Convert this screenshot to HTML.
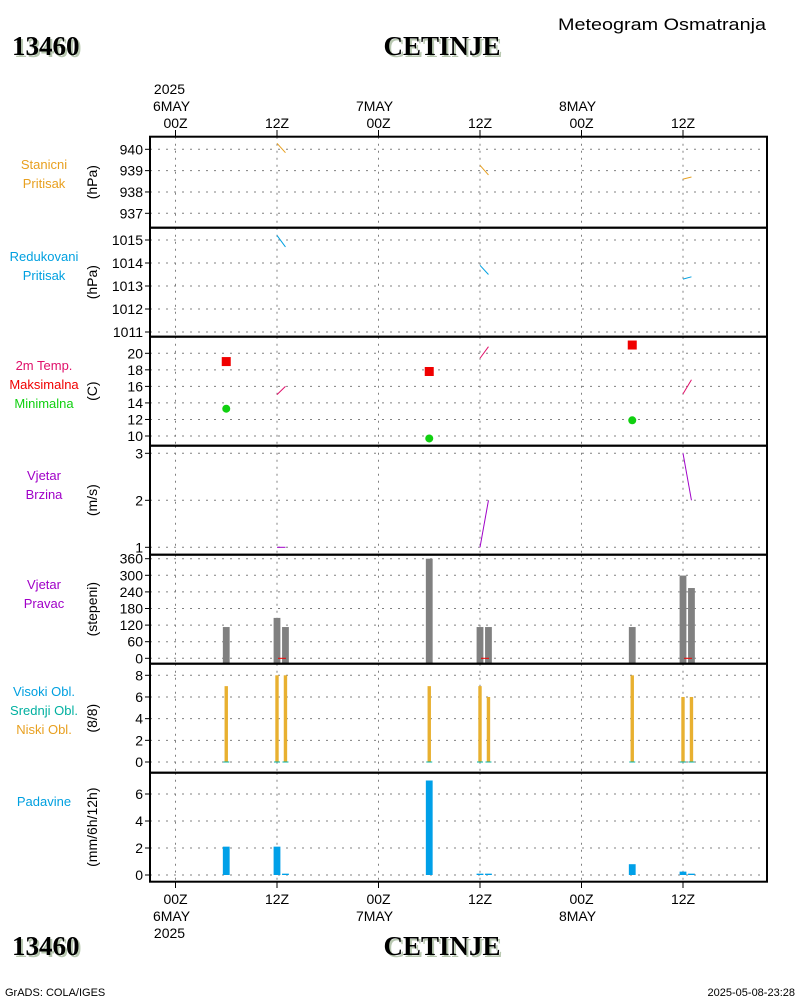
<!DOCTYPE html>
<html><head><meta charset="utf-8"><style>
body{margin:0;background:#fff;}
svg{display:block;font-family:"Liberation Sans",sans-serif;}
.big{font-family:"Liberation Serif",serif;font-weight:bold;font-size:27px;}
</style></head><body>
<svg id="c" width="800" height="1000" xmlns="http://www.w3.org/2000/svg">
<rect width="800" height="1000" fill="#fff"/>
<g>
<text x="14" y="57" class="big" fill="#b8c8b0">13460</text>
<text x="12" y="55" class="big" fill="#000">13460</text>
<text x="444" y="57" class="big" fill="#b8c8b0" text-anchor="middle">CETINJE</text>
<text x="442" y="55" class="big" fill="#000" text-anchor="middle">CETINJE</text>
<text x="558" y="30" font-size="17" textLength="208" lengthAdjust="spacingAndGlyphs">Meteogram Osmatranja</text>
<text x="14" y="957" class="big" fill="#b8c8b0">13460</text>
<text x="12" y="955" class="big" fill="#000">13460</text>
<text x="444" y="957" class="big" fill="#b8c8b0" text-anchor="middle">CETINJE</text>
<text x="442" y="955" class="big" fill="#000" text-anchor="middle">CETINJE</text>
<text x="5" y="996" font-size="11">GrADS: COLA/IGES</text>
<text x="795" y="996" font-size="11" text-anchor="end">2025-05-08-23:28</text>
</g>
<g id="plot"></g>
</svg>
<script>
// ---- data (hours since 2025-05-06 00Z) ----
const xTickHours = [0, 12, 24, 36, 48, 60];
const xTickLabels = ["00Z", "12Z", "00Z", "12Z", "00Z", "12Z"];
const dayLabels = ["6MAY", "7MAY", "8MAY"];
const dayHours = [0, 24, 48];
const presHours = [12, 13, 36, 37, 60, 61];
const stationPres = [940.28, 939.84, 939.25, 938.8, 938.6, 938.7];
const redPres = [1015.2, 1014.7, 1013.9, 1013.5, 1013.3, 1013.4];
const tempHours = [12, 13, 36, 37, 60, 61];
const temp2m = [15.0, 16.0, 19.4, 20.8, 15.1, 16.8];
const extHours = [6, 30, 54];
const tMax = [19.0, 17.8, 21.0];
const tMin = [13.3, 9.7, 11.9];
const windHours = [12, 13, 36, 37, 60, 61];
const windSpeed = [1, 1, 1, 2, 3, 2];
const obsHours = [6, 12, 13, 30, 36, 37, 54, 60, 61];
const windDir = [113, 146, 113, 360, 113, 113, 113, 299, 254];
const lowCloud = [7, 8, 8, 7, 7, 6, 8, 6, 6];
const precip = [2.1, 2.1, 0.1, 7.0, 0.1, 0.1, 0.8, 0.25, 0.1];
const calmHours = [12, 36, 60];

const NS = "http://www.w3.org/2000/svg";
const plot = document.getElementById("plot");
const X0 = 150, X1 = 767;
const xs = h => 175.5 + h * 101.5 / 12;
function el(tag, attrs, parent) {
  const e = document.createElementNS(NS, tag);
  for (const k in attrs) e.setAttribute(k, attrs[k]);
  (parent || plot).appendChild(e);
  return e;
}
function txt(x, y, s, attrs, parent) {
  const e = el("text", Object.assign({x: x, y: y}, attrs || {}), parent);
  e.textContent = s;
  return e;
}
const panels = [
  {top:136.7, bot:227.7, v0:937, v1:940, p0:213.3, p1:149.3, ticks:[937,938,939,940], unit:"(hPa)", off:-18, labels:[["Stanicni","#e8a020"],["Pritisak","#e8a020"]], name:"station-pressure"},
  {top:227.7, bot:336.7, v0:1011, v1:1015, p0:332, p1:240, ticks:[1011,1012,1013,1014,1015], unit:"(hPa)", off:-26, labels:[["Redukovani","#00a0e0"],["Pritisak","#00a0e0"]], name:"reduced-pressure"},
  {top:336.7, bot:445.7, v0:10, v1:20, p0:436, p1:353.3, ticks:[10,12,14,16,18,20], unit:"(C)", off:-26, labels:[["2m Temp.","#e0106a"],["Maksimalna","#f00000"],["Minimalna","#10d010"]], name:"temperature"},
  {top:445.7, bot:554.7, v0:1, v1:3, p0:547.3, p1:453.3, ticks:[1,2,3], unit:"(m/s)", off:-25, labels:[["Vjetar","#a000c8"],["Brzina","#a000c8"]], name:"wind-speed"},
  {top:554.7, bot:663.7, v0:0, v1:360, p0:658.3, p1:558.7, ticks:[0,60,120,180,240,300,360], unit:"(stepeni)", off:-25, labels:[["Vjetar","#a000c8"],["Pravac","#a000c8"]], name:"wind-direction"},
  {top:663.7, bot:772.7, v0:0, v1:8, p0:762, p1:675.3, ticks:[0,2,4,6,8], unit:"(8/8)", off:-27, labels:[["Visoki Obl.","#00a0e0"],["Srednji Obl.","#00b0a0"],["Niski Obl.","#e8a020"]], name:"cloud-cover"},
  {top:772.7, bot:881.7, v0:0, v1:7, p0:875, p1:780.5, ticks:[0,2,4,6], unit:"(mm/6h/12h)", off:-26, labels:[["Padavine","#00a0e0"]], name:"precipitation"}
];
panels.forEach(p => { p.y = v => p.p0 + (v - p.v0) * (p.p1 - p.p0) / (p.v1 - p.v0); });

panels.forEach((p, i) => {
  const g = el("g", {});
  
  
  xTickHours.forEach(h => {
    const l = el("line", {x1: xs(h), x2: xs(h), y1: p.top, y2: p.bot, stroke: "#808080", "stroke-dasharray": "2,5"}, g);
    
    
  });
  p.ticks.forEach(t => {
    const yy = p.y(t);
    const l = el("line", {x1: X0, x2: X1, y1: yy, y2: yy, stroke: "#808080", "stroke-dasharray": "2,6"}, g);
    
    
    el("line", {x1: X0 - 5, x2: X0, y1: yy, y2: yy, stroke: "#000"}, g);
    const tl = txt(X0 - 7, yy + 5, String(t), {"font-size": 14, "text-anchor": "end"}, g);
    
    
  });
  const cy = (p.top + p.bot) / 2;
  const ut = txt(0, 0, p.unit, {"font-size": 14, "text-anchor": "middle", transform: `translate(97,${cy}) rotate(-90)`}, g);
  
  
  p.labels.forEach((lb, k) => {
    const t = txt(44, cy + p.off + k * 19 + 5, lb[0], {"font-size": 13, "text-anchor": "middle", fill: lb[1]}, g);
    
    
  });
});

function segLines(hours, vals, p, color, name) {
  for (let i = 0; i < hours.length - 1; i++) {
    if (hours[i + 1] - hours[i] > 3) continue;
    const l = el("line", {x1: xs(hours[i]), y1: p.y(vals[i]), x2: xs(hours[i + 1]), y2: p.y(vals[i + 1]), stroke: color, "stroke-width": 1});
    
    
  }
}
segLines(presHours, stationPres, panels[0], "#e8a020", "station-pressure-line");
segLines(presHours, redPres, panels[1], "#00a0e0", "reduced-pressure-line");
segLines(tempHours, temp2m, panels[2], "#e0106a", "temperature-line");
segLines(windHours, windSpeed, panels[3], "#a000c8", "wind-speed-line");

extHours.forEach((h, i) => {
  const s = el("rect", {x: xs(h) - 4.5, y: panels[2].y(tMax[i]) - 4.5, width: 9, height: 9, fill: "#f00000"});
  
  
  const c = el("circle", {cx: xs(h), cy: panels[2].y(tMin[i]), r: 4, fill: "#10d010"});
  
  
});

obsHours.forEach((h, i) => {
  const pd = panels[4];
  const v = Math.min(windDir[i], 360);
  const yt = Math.max(pd.y(v), pd.top);
  const b = el("rect", {x: xs(h) - 3.4, y: yt, width: 6.8, height: pd.bot - yt, fill: "#808080"});
  
  

  const pc = panels[5];
  const yc = pc.y(lowCloud[i]);
  const cb = el("rect", {x: xs(h) - 1.7, y: yc, width: 3.4, height: pc.y(0) - yc, fill: "#e8b030"});
  
  
  const cm = el("line", {x1: xs(h) - 3, x2: xs(h) + 3, y1: pc.y(0), y2: pc.y(0), stroke: "#00b0a0"});
  
  

  const pp = panels[6];
  const yp = pp.y(precip[i]);
  const pb = el("rect", {x: xs(h) - 3.4, y: yp, width: 6.8, height: Math.max(pp.y(0) - yp, 1), fill: "#00a0e8"});
  
  
});
calmHours.forEach(h => {
  const l = el("line", {x1: xs(h) + 1, x2: xs(h) + 9, y1: panels[4].y(0), y2: panels[4].y(0), stroke: "#f00000", "stroke-width": 1});
  
  
});

panels.forEach(p => {
  const r = el("rect", {x: X0, y: p.top, width: X1 - X0, height: p.bot - p.top, fill: "none", stroke: "#000", "stroke-width": 2});
  
  
});
xTickHours.forEach((h, i) => {
  el("line", {x1: xs(h), x2: xs(h), y1: 130, y2: 136, stroke: "#000"});
  el("line", {x1: xs(h), x2: xs(h), y1: 882, y2: 888, stroke: "#000"});
  const a = txt(xs(h), 128, xTickLabels[i], {"font-size": 14, "text-anchor": "middle"});
  
  
  const b = txt(xs(h), 904, xTickLabels[i], {"font-size": 14, "text-anchor": "middle"});
  
  
});
dayHours.forEach((h, i) => {
  const a = txt(xs(h) - 4, 111, dayLabels[i], {"font-size": 14, "text-anchor": "middle"});
  
  
  const b = txt(xs(h) - 4, 921, dayLabels[i], {"font-size": 14, "text-anchor": "middle"});
  
  
});
const y1 = txt(xs(0) - 6, 94, "2025", {"font-size": 14, "text-anchor": "middle"});


const y2 = txt(xs(0) - 6, 938, "2025", {"font-size": 14, "text-anchor": "middle"});


</script>
</body></html>
